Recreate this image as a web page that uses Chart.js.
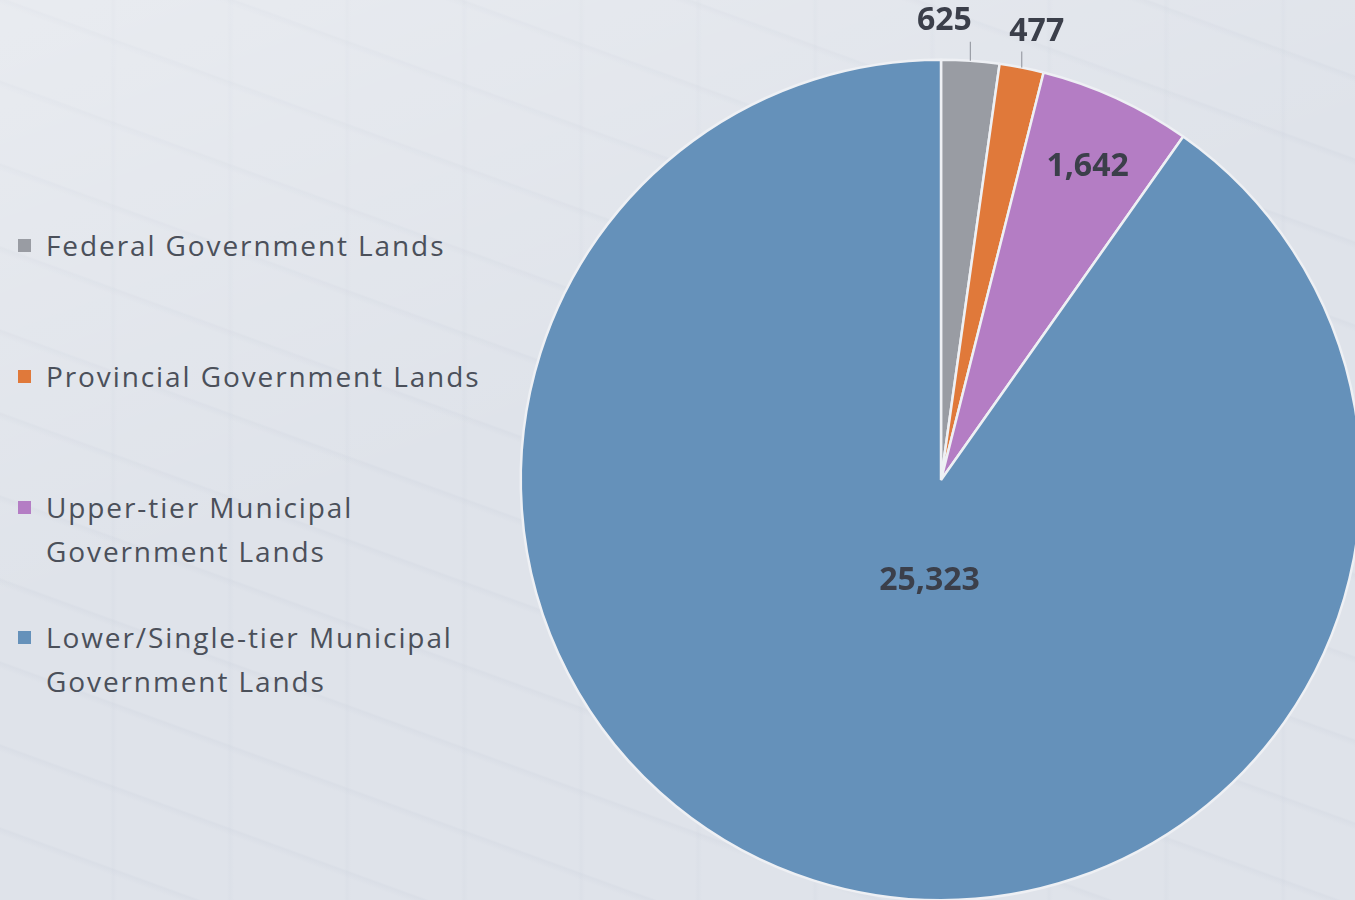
<!DOCTYPE html>
<html>
<head>
<meta charset="utf-8">
<script src="https://cdn.jsdelivr.net/npm/chart.js@4.4.1/dist/chart.umd.min.js"></script>
<style>
  html, body { margin: 0; padding: 0; width: 1355px; height: 900px; overflow: hidden; }
  body {
    position: relative;
    background-color: #dfe3ea;
    background-image:
      linear-gradient(160deg, rgba(255,255,255,0.30) 0%, rgba(255,255,255,0) 45%),
      repeating-linear-gradient(200deg, rgba(200,206,218,0.0) 0px, rgba(200,206,218,0.0) 70px, rgba(200,206,218,0.22) 72px, rgba(200,206,218,0.0) 78px),
      repeating-linear-gradient(90deg, rgba(205,211,222,0.0) 0px, rgba(205,211,222,0.0) 110px, rgba(205,211,222,0.18) 113px, rgba(205,211,222,0.0) 117px);
    font-family: "Open Sans", Lato, sans-serif;
  }
  #legend { position: absolute; left: 18px; top: 223px; color: #4b505a; font-size: 28px; letter-spacing: 1.9px; }
  .item { position: absolute; left: 0; white-space: nowrap; line-height: 44px; }
  .swatch { position: absolute; left: 0; width: 13px; height: 13px; }
  .text { position: absolute; left: 28px; }
  #wrap { position: absolute; left: 0; top: 0; width: 1400px; height: 960px; }
</style>
</head>
<body>
<div id="legend"></div>
<div id="wrap"><canvas id="chart"></canvas></div>
<script>
// Land holdings by level of government
const categories = [
  'Federal Government Lands',
  'Provincial Government Lands',
  'Upper-tier Municipal Government Lands',
  'Lower/Single-tier Municipal Government Lands'
];
const legendLines = [
  ['Federal Government Lands'],
  ['Provincial Government Lands'],
  ['Upper-tier Municipal', 'Government Lands'],
  ['Lower/Single-tier Municipal', 'Government Lands']
];
const values = [625, 477, 1642, 25323];
const valueLabels = ['625', '477', '1,642', '25,323'];
const colors = ['#999ca3', '#e0793a', '#b47dc4', '#6591ba'];

// Legend rows down the left side
const legendTops = [0, 131, 262, 392];
const legend = document.getElementById('legend');
categories.forEach((c, i) => {
  const item = document.createElement('div');
  item.className = 'item';
  item.style.top = legendTops[i] + 'px';
  const sw = document.createElement('div');
  sw.className = 'swatch';
  sw.style.background = colors[i];
  sw.style.top = '16px';
  const tx = document.createElement('div');
  tx.className = 'text';
  tx.innerHTML = legendLines[i].join('<br>');
  item.appendChild(sw);
  item.appendChild(tx);
  legend.appendChild(item);
});

// Value labels: outside with a short leader line for thin slices, inside otherwise
const labelStyle = [
  { mode: 'outside', lead: 19, dx: -26, dy: -21 },
  { mode: 'outside', lead: 16, dx: 15, dy: -20 },
  { mode: 'inside', frac: 0.83, dx: 1, dy: 4 },
  { mode: 'inside', frac: 0.24, dx: 19, dy: 5 }
];

const valueLabelPlugin = {
  id: 'valueLabels',
  afterDatasetsDraw(chart) {
    const ctx = chart.ctx;
    const meta = chart.getDatasetMeta(0);
    ctx.save();
    ctx.font = 'bold 32px "Open Sans", Lato, sans-serif';
    ctx.fillStyle = '#3b3f4a';
    ctx.textAlign = 'center';
    ctx.textBaseline = 'middle';
    meta.data.forEach((arc, i) => {
      const { x, y, startAngle, endAngle, outerRadius } = arc.getProps(['x', 'y', 'startAngle', 'endAngle', 'outerRadius'], true);
      const mid = (startAngle + endAngle) / 2;
      const st = labelStyle[i];
      if (st.mode === 'outside') {
        const px = x + Math.cos(mid) * outerRadius;
        const py = y + Math.sin(mid) * outerRadius;
        ctx.strokeStyle = '#9a9ea6';
        ctx.lineWidth = 1.2;
        ctx.beginPath();
        ctx.moveTo(px, py);
        ctx.lineTo(px, py - st.lead);
        ctx.stroke();
        ctx.fillText(valueLabels[i], px + st.dx, py - st.lead + st.dy);
      } else {
        const r = outerRadius * st.frac;
        ctx.fillText(valueLabels[i], x + Math.cos(mid) * r + st.dx, y + Math.sin(mid) * r + st.dy);
      }
    });
    ctx.restore();
  }
};

new Chart(document.getElementById('chart'), {
  type: 'pie',
  data: {
    labels: categories,
    datasets: [{
      data: values,
      backgroundColor: colors,
      borderColor: '#eef0f4',
      borderWidth: 2.5
    }]
  },
  options: {
    responsive: true,
    maintainAspectRatio: false,
    animation: false,
    layout: { padding: { left: 519.5, right: 37.5, top: 58.5, bottom: 58.5 } },
    plugins: {
      legend: { display: false },
      tooltip: { enabled: false }
    }
  },
  plugins: [valueLabelPlugin]
});
</script>
</body>
</html>
